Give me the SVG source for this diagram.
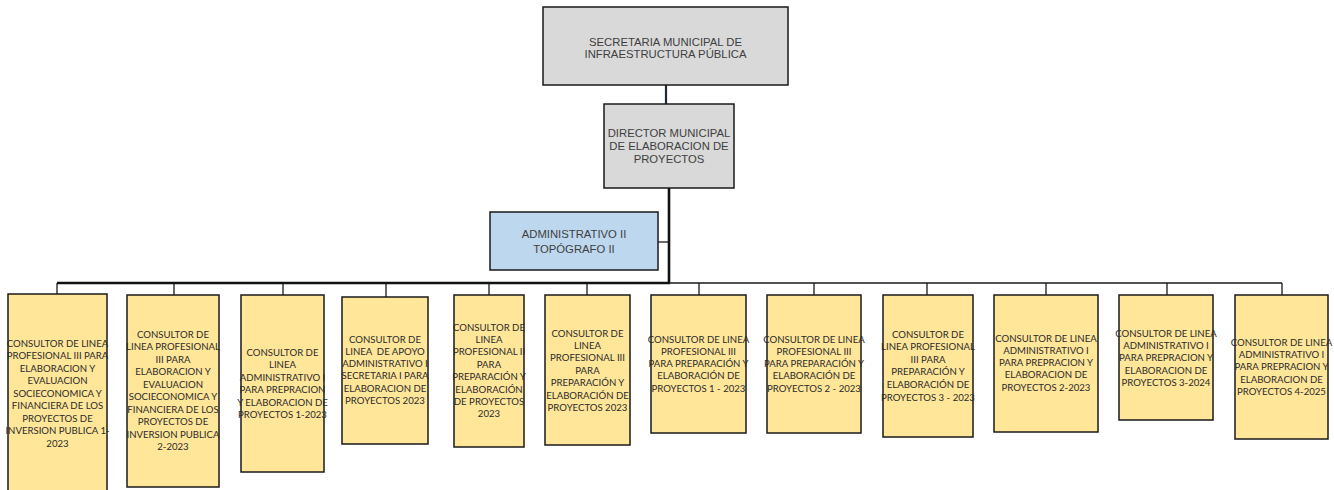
<svg xmlns="http://www.w3.org/2000/svg" width="1334" height="490" viewBox="0 0 1334 490">
<style>
.top{fill:#D9D9D9;stroke:#1a1a1a;stroke-width:1.5}
.adm{fill:#BDD7EE;stroke:#1a1a1a;stroke-width:1.5}
.ch{fill:#FFE699;stroke:#1a1a1a;stroke-width:1.5}
.tt{font-family:"Liberation Sans",Arial,sans-serif;font-size:11.3px;fill:#404040;text-anchor:middle}
.ct{font-family:Lato,"Liberation Sans",sans-serif;font-size:9.6px;fill:#2b2b2b;text-anchor:middle}
.thin{stroke:#1a1a1a;stroke-width:1.3;fill:none}
.thick{stroke:#111;stroke-width:2.6;fill:none}
</style>
<g id="connectors">
<line x1="666" y1="85" x2="666" y2="104" stroke="#1f2a36" stroke-width="2.2"/>
<line class="thick" x1="669" y1="188" x2="669" y2="283"/>
<line class="thin" x1="658" y1="242" x2="669" y2="242"/>
<line class="thick" x1="57" y1="283" x2="670" y2="283"/>
<line class="thin" x1="669" y1="283" x2="1282" y2="283"/>
<path class="thin" d="M57 283V294 M174 283V295 M283 283V295 M386 283V297 M489 283V295 M587 283V295 M699 283V295 M814 283V295 M927 283V295 M1046 283V295 M1167 283V295 M1282 283V295"/>
</g>
<g id="secretaria">
<rect class="top" x="543" y="7" width="245" height="78"/>
<text class="tt"><tspan x="665.5" y="45.5">SECRETARIA MUNICIPAL DE</tspan><tspan x="665.5" y="57.5">INFRAESTRUCTURA PÚBLICA</tspan></text>
</g>
<g id="director">
<rect class="top" x="604" y="104" width="130" height="84"/>
<text class="tt"><tspan x="669" y="137">DIRECTOR MUNICIPAL</tspan><tspan x="669" y="150">DE ELABORACION DE</tspan><tspan x="669" y="163">PROYECTOS</tspan></text>
</g>
<g id="administrativo">
<rect class="adm" x="490" y="212" width="168" height="58"/>
<text class="tt"><tspan x="574" y="238">ADMINISTRATIVO II</tspan><tspan x="574" y="253">TOPÓGRAFO II</tspan></text>
</g>
<g id="c1">
<rect class="ch" x="8" y="294" width="99" height="210"/>
<text class="ct"><tspan x="57.5" y="346.5">CONSULTOR DE LINEA</tspan><tspan x="57.5" dy="12.5">PROFESIONAL III PARA</tspan><tspan x="57.5" dy="12.5">ELABORACION Y</tspan><tspan x="57.5" dy="12.5">EVALUACION</tspan><tspan x="57.5" dy="12.5">SOCIECONOMICA Y</tspan><tspan x="57.5" dy="12.5">FINANCIERA DE LOS</tspan><tspan x="57.5" dy="12.5">PROYECTOS DE</tspan><tspan x="57.5" dy="12.5">INVERSION PUBLICA 1-</tspan><tspan x="57.5" dy="12.5">2023</tspan></text>
</g>
<g id="c2">
<rect class="ch" x="127" y="295" width="92" height="192"/>
<text class="ct"><tspan x="173" y="337.5">CONSULTOR DE</tspan><tspan x="173" dy="12.5">LINEA PROFESIONAL</tspan><tspan x="173" dy="12.5">III PARA</tspan><tspan x="173" dy="12.5">ELABORACION Y</tspan><tspan x="173" dy="12.5">EVALUACION</tspan><tspan x="173" dy="12.5">SOCIECONOMICA Y</tspan><tspan x="173" dy="12.5">FINANCIERA DE LOS</tspan><tspan x="173" dy="12.5">PROYECTOS DE</tspan><tspan x="173" dy="12.5">INVERSION PUBLICA</tspan><tspan x="173" dy="12.5">2-2023</tspan></text>
</g>
<g id="c3">
<rect class="ch" x="241" y="295" width="83" height="177"/>
<text class="ct"><tspan x="282.5" y="355.5">CONSULTOR DE</tspan><tspan x="282.5" dy="12.5">LINEA</tspan><tspan x="282.5" dy="12.5">ADMINISTRATIVO I</tspan><tspan x="282.5" dy="12.5">PARA PREPRACION</tspan><tspan x="282.5" dy="12.5">Y ELABORACION DE</tspan><tspan x="282.5" dy="12.5">PROYECTOS 1-2023</tspan></text>
</g>
<g id="c4">
<rect class="ch" x="342" y="297" width="86" height="147"/>
<text class="ct"><tspan x="385" y="342.5">CONSULTOR DE</tspan><tspan x="385" dy="12.3" xml:space="preserve">LINEA  DE APOYO</tspan><tspan x="385" dy="12.3">ADMINISTRATIVO I</tspan><tspan x="385" dy="12.3">SECRETARIA I PARA</tspan><tspan x="385" dy="12.3">ELABORACION DE</tspan><tspan x="385" dy="12.3">PROYECTOS 2023</tspan></text>
</g>
<g id="c5">
<rect class="ch" x="454" y="295" width="70" height="152"/>
<text class="ct"><tspan x="489" y="330.5">CONSULTOR DE</tspan><tspan x="489" dy="12.4">LINEA</tspan><tspan x="489" dy="12.4">PROFESIONAL II</tspan><tspan x="489" dy="12.4">PARA</tspan><tspan x="489" dy="12.4">PREPARACIÓN Y</tspan><tspan x="489" dy="12.4">ELABORACIÓN</tspan><tspan x="489" dy="12.4">DE PROYECTOS</tspan><tspan x="489" dy="12.4">2023</tspan></text>
</g>
<g id="c6">
<rect class="ch" x="545" y="295" width="85" height="150"/>
<text class="ct"><tspan x="587.5" y="336.5">CONSULTOR DE</tspan><tspan x="587.5" dy="12.4">LINEA</tspan><tspan x="587.5" dy="12.4">PROFESIONAL III</tspan><tspan x="587.5" dy="12.4">PARA</tspan><tspan x="587.5" dy="12.4">PREPARACIÓN Y</tspan><tspan x="587.5" dy="12.4">ELABORACIÓN DE</tspan><tspan x="587.5" dy="12.4">PROYECTOS 2023</tspan></text>
</g>
<g id="c7">
<rect class="ch" x="651" y="295" width="95" height="138"/>
<text class="ct"><tspan x="698.5" y="342.5">CONSULTOR DE LINEA</tspan><tspan x="698.5" dy="12.3">PROFESIONAL III</tspan><tspan x="698.5" dy="12.3">PARA PREPARACIÓN Y</tspan><tspan x="698.5" dy="12.3">ELABORACIÓN DE</tspan><tspan x="698.5" dy="12.3">PROYECTOS 1 - 2023</tspan></text>
</g>
<g id="c8">
<rect class="ch" x="767" y="295" width="94" height="138"/>
<text class="ct"><tspan x="814" y="342.5">CONSULTOR DE LINEA</tspan><tspan x="814" dy="12.3">PROFESIONAL III</tspan><tspan x="814" dy="12.3">PARA PREPARACIÓN Y</tspan><tspan x="814" dy="12.3">ELABORACIÓN DE</tspan><tspan x="814" dy="12.3">PROYECTOS 2 - 2023</tspan></text>
</g>
<g id="c9">
<rect class="ch" x="883" y="295" width="90" height="142"/>
<text class="ct"><tspan x="928" y="337.5">CONSULTOR DE</tspan><tspan x="928" dy="12.6">LINEA PROFESIONAL</tspan><tspan x="928" dy="12.6">III PARA</tspan><tspan x="928" dy="12.6">PREPARACIÓN Y</tspan><tspan x="928" dy="12.6">ELABORACIÓN DE</tspan><tspan x="928" dy="12.6">PROYECTOS 3 - 2023</tspan></text>
</g>
<g id="c10">
<rect class="ch" x="994" y="295" width="104" height="137"/>
<text class="ct"><tspan x="1046" y="341.5">CONSULTOR DE LINEA</tspan><tspan x="1046" dy="12.3">ADMINISTRATIVO I</tspan><tspan x="1046" dy="12.3">PARA PREPRACION Y</tspan><tspan x="1046" dy="12.3">ELABORACION DE</tspan><tspan x="1046" dy="12.3">PROYECTOS 2-2023</tspan></text>
</g>
<g id="c11">
<rect class="ch" x="1119" y="295" width="94" height="125"/>
<text class="ct"><tspan x="1166" y="336.5">CONSULTOR DE LINEA</tspan><tspan x="1166" dy="12.4">ADMINISTRATIVO I</tspan><tspan x="1166" dy="12.4">PARA PREPRACION Y</tspan><tspan x="1166" dy="12.4">ELABORACION DE</tspan><tspan x="1166" dy="12.4">PROYECTOS 3-2024</tspan></text>
</g>
<g id="c12">
<rect class="ch" x="1235" y="295" width="93" height="144"/>
<text class="ct"><tspan x="1281.5" y="345.5">CONSULTOR DE LINEA</tspan><tspan x="1281.5" dy="12.4">ADMINISTRATIVO I</tspan><tspan x="1281.5" dy="12.4">PARA PREPRACION Y</tspan><tspan x="1281.5" dy="12.4">ELABORACION DE</tspan><tspan x="1281.5" dy="12.4">PROYECTOS 4-2025</tspan></text>
</g>
</svg>
